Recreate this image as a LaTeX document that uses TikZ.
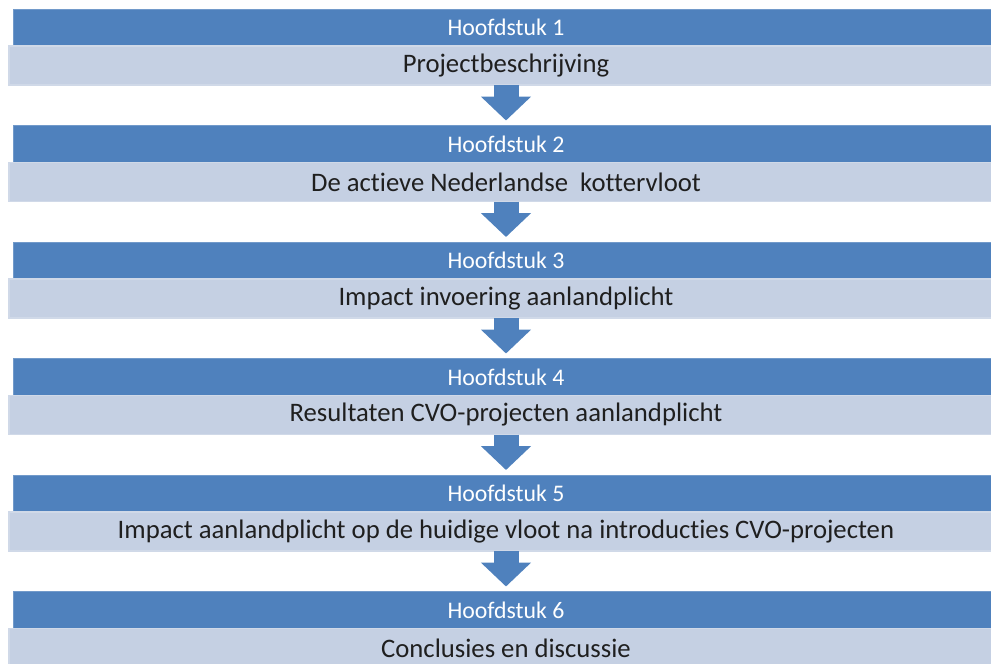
\documentclass[tikz,border=0pt]{standalone}
\usepackage{fontspec}
\setmainfont[Ligatures={NoCommon,NoDiscretionary}]{Carlito}
\usetikzlibrary{positioning,arrows.meta}
\definecolor{hdblue}{HTML}{4F81BD}
\definecolor{rowblue}{HTML}{C5D0E3}
\definecolor{rowedge}{HTML}{D0D9E8}
\tikzset{
  hbar/.style ={fill=hdblue, draw=hdblue!80!white, line width=0.8pt, minimum width=986pt,
                minimum height=37pt, inner sep=0pt, outer sep=0pt,
                text=white, font=\fontsize{23.8}{28}\selectfont},
  tbar/.style ={fill=rowblue, draw=rowedge, line width=1.5pt, minimum width=994pt,
                minimum height=39pt, inner sep=0pt, outer sep=0pt,
                text=black!88, font=\fontsize{26.7}{31}\selectfont},
  fl/.style   ={draw=hdblue, line width=25pt,
                -{Triangle[length=24pt,width=49pt]}, shorten >=5pt},
}

\begin{document}
\begin{tikzpicture}
  \useasboundingbox (0,0) rectangle (991pt,-664pt);

  % chapter 1
  \node[hbar] (h1) at (506pt,-27.5pt) {Hoofdstuk 1};
  \node[tbar, below=0pt of h1] (t1) {Projectbeschrijving};

  % chapter 2
  \node[hbar, below=40.5pt of t1] (h2) {Hoofdstuk 2};
  \node[tbar, below=0pt of h2] (t2) {De actieve Nederlandse\ \ kottervloot};

  % chapter 3
  \node[hbar, below=40.5pt of t2] (h3) {Hoofdstuk 3};
  \node[tbar, below=0pt of h3] (t3) {Impact invoering aanlandplicht};

  % chapter 4
  \node[hbar, below=40.5pt of t3] (h4) {Hoofdstuk 4};
  \node[tbar, below=0pt of h4] (t4) {Resultaten CVO-projecten aanlandplicht};

  % chapter 5
  \node[hbar, below=40.5pt of t4] (h5) {Hoofdstuk 5};
  \node[tbar, below=0pt of h5] (t5) {Impact aanlandplicht op de huidige vloot na introducties CVO-projecten};

  % chapter 6
  \node[hbar, below=40.5pt of t5] (h6) {Hoofdstuk 6};
  \node[tbar, below=0pt of h6] (t6) {Conclusies en discussie};

  \draw[fl] (t1) -- (h2);
  \draw[fl] (t2) -- (h3);
  \draw[fl] (t3) -- (h4);
  \draw[fl] (t4) -- (h5);
  \draw[fl] (t5) -- (h6);
\end{tikzpicture}
\end{document}
